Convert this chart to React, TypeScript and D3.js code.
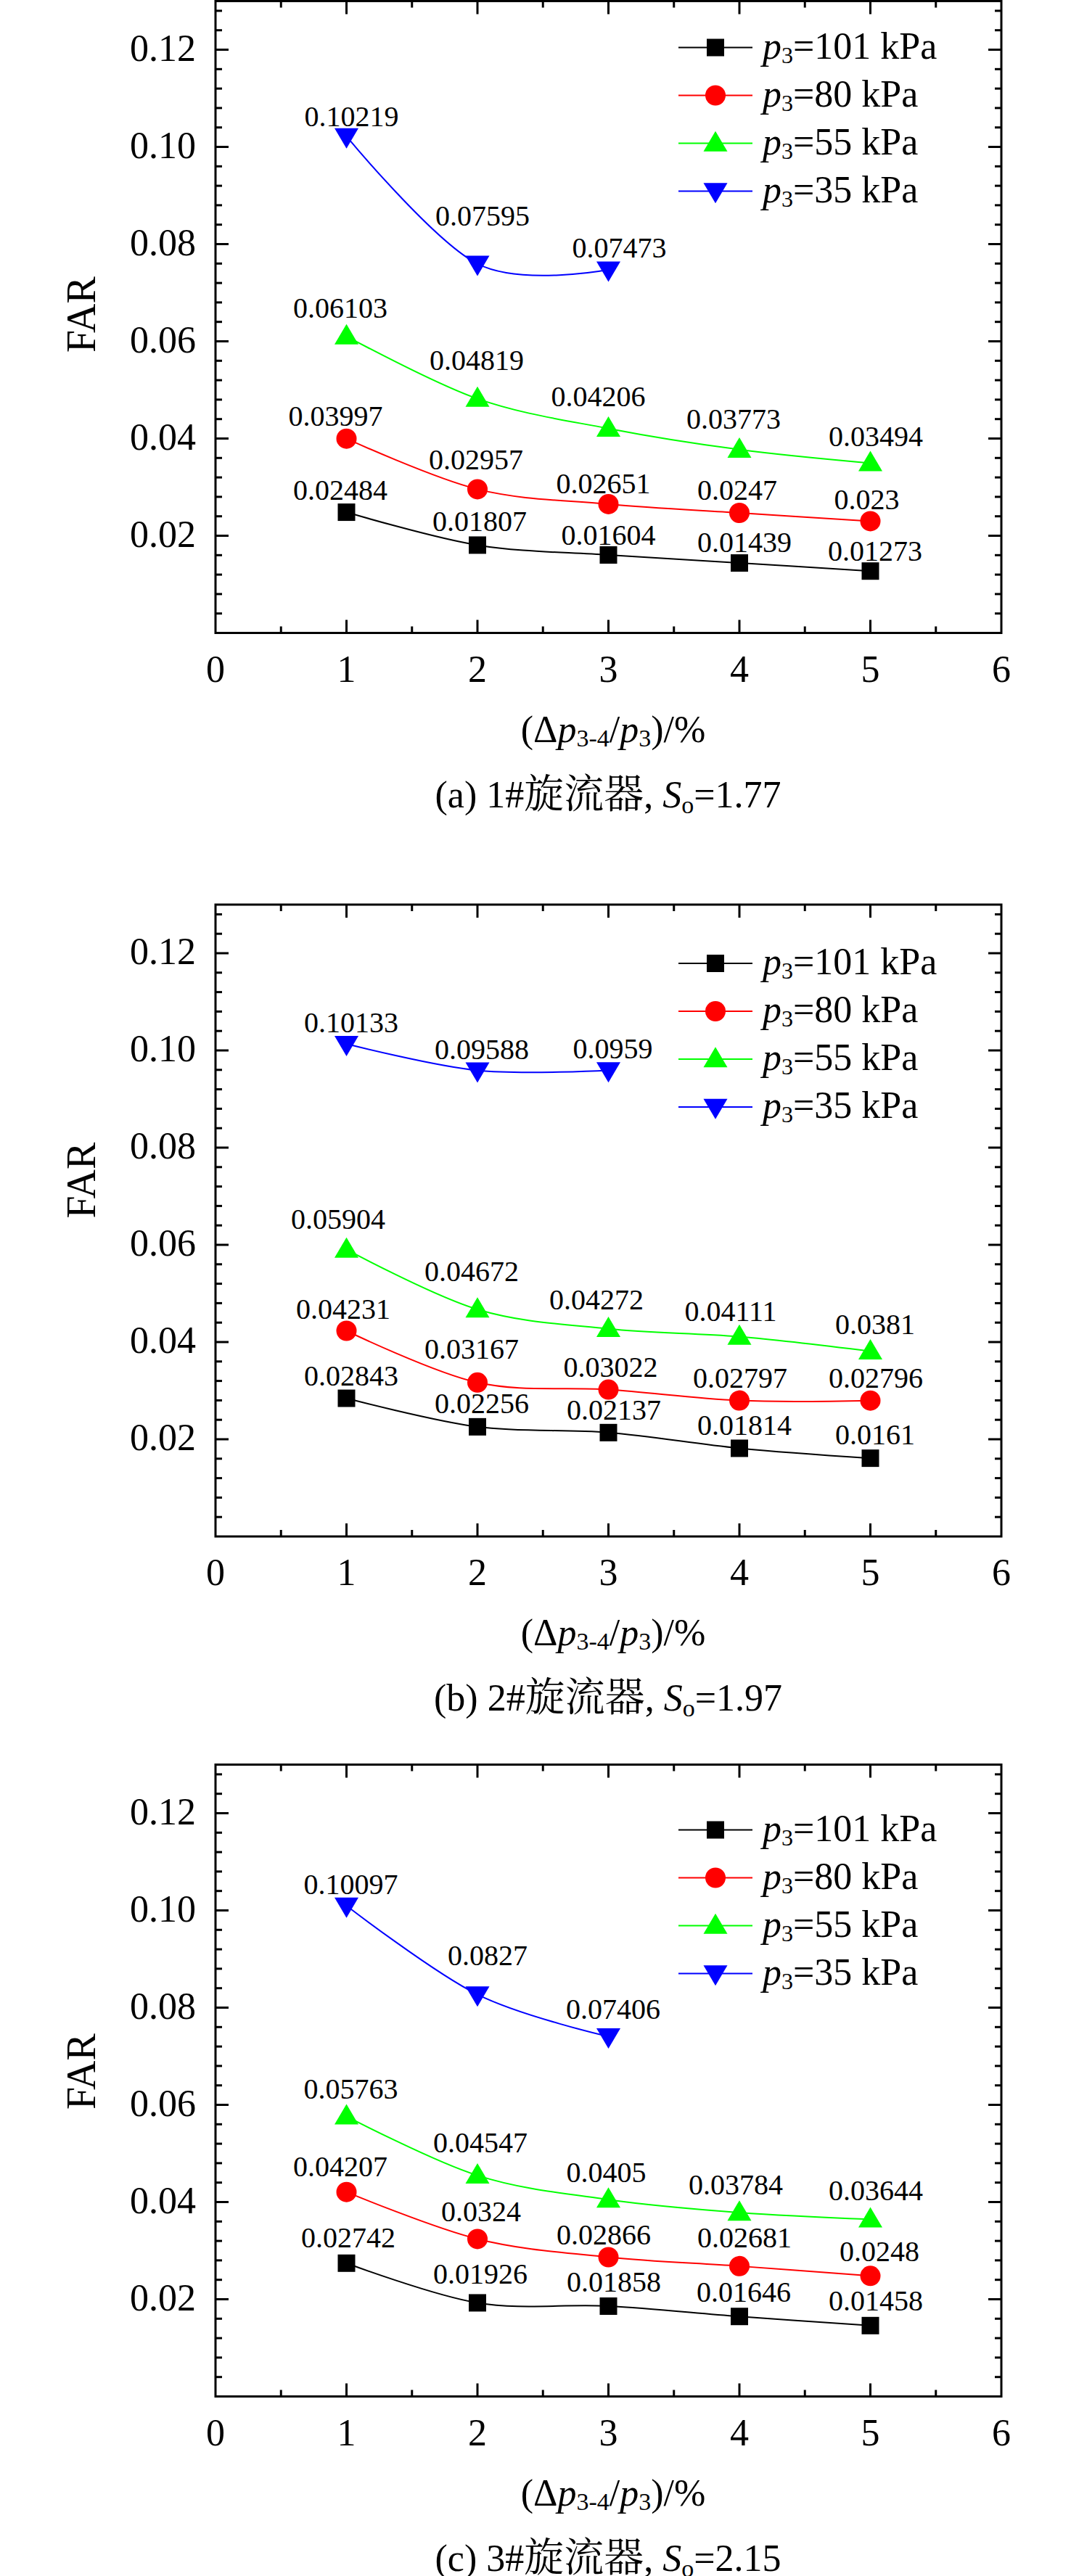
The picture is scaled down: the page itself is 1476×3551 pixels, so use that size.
import React from 'react';
import * as d3 from 'd3';

// ---------- data ----------
const xValues = [1, 2, 3, 4, 5];
const pressureLabels = ['101', '80', '55', '35'];
const seriesColors = ['#000000', '#ff0000', '#00ff00', '#0000ff'];
const markerShapes = ['square', 'circle', 'triangle', 'triangleDown'];

const a101 = [0.02484, 0.01807, 0.01604, 0.01439, 0.01273];
const a80 = [0.03997, 0.02957, 0.02651, 0.0247, 0.023];
const a55 = [0.06103, 0.04819, 0.04206, 0.03773, 0.03494];
const a35 = [0.10219, 0.07595, 0.07473];

const b101 = [0.02843, 0.02256, 0.02137, 0.01814, 0.0161];
const b80 = [0.04231, 0.03167, 0.03022, 0.02797, 0.02796];
const b55 = [0.05904, 0.04672, 0.04272, 0.04111, 0.0381];
const b35 = [0.10133, 0.09588, 0.0959];

const c101 = [0.02742, 0.01926, 0.01858, 0.01646, 0.01458];
const c80 = [0.04207, 0.0324, 0.02866, 0.02681, 0.0248];
const c55 = [0.05763, 0.04547, 0.0405, 0.03784, 0.03644];
const c35 = [0.10097, 0.0827, 0.07406];

const panelLetters = ['a', 'b', 'c'];
const swirlerNames = ['1#', '2#', '3#'];
const swirlerWord = '旋流器';
const swirlNumbers = ['1.77', '1.97', '2.15'];

const xTicks = [0, 1, 2, 3, 4, 5, 6];
const yTicks = [0.02, 0.04, 0.06, 0.08, 0.1, 0.12];
const yTickLabels = ['0.02', '0.04', '0.06', '0.08', '0.10', '0.12'];

// ---------- layout (label offsets: dx, dy of label baseline from point) ----------
const offA = [
  [[-8.5, -17], [3, -19.5], [0, -14], [7, -15], [6.5, -14]],
  [[-15, -18], [-2, -27], [-7, -15], [-3, -18], [-5, -16]],
  [[-8.5, -26], [-1, -40], [-14, -31], [-8, -29], [7.5, -23]],
  [[7, -14], [7, -53], [15, -17]],
];
const offB = [
  [[6.5, -18], [6, -19], [7.5, -18], [7, -18], [6.5, -19]],
  [[-4.5, -17], [-8, -32.5], [3, -18], [1, -18], [7.5, -18]],
  [[-11.5, -28.5], [-8, -38.5], [-16.5, -27], [-12, -21.5], [6.5, -24]],
  [[6.5, -16], [6, -16], [6, -16]],
];
const offC = [
  [[2.5, -22], [4, -26.6], [7.5, -20], [6, -20.4], [7.5, -21]],
  [[-8.5, -22], [5, -24.4], [-6.5, -17.5], [7, -26], [12.5, -20]],
  [[6, -24], [4, -31.6], [-3, -24], [-5, -25.4], [7.5, -26]],
  [[6, -16.5], [14, -40.6], [6.5, -24.6]],
];

const panelSeries = [
  [a101, a80, a55, a35],
  [b101, b80, b55, b35],
  [c101, c80, c55, c35],
];
const panelOffsets = [offA, offB, offC];
const panelTops = [1.5, 1247, 2432.5];
const legendTops = [64, 81, 90];
const farCenters = [432, 380, 423];

const W = 1476;
const H = 3551;
const plotLeft = 297;
const plotRight = 1380;
const plotH = 871;
const FONT = "'Liberation Serif', 'Times New Roman', Times, serif";
const CJK = "'Noto Serif CJK SC', 'Noto Sans CJK SC', sans-serif";

function Marker({ shape, x, y, color }: { shape: string; x: number; y: number; color: string }) {
  if (shape === 'square') {
    const s = 24;
    return <rect x={x - s / 2} y={y - s / 2} width={s} height={s} fill={color} />;
  }
  if (shape === 'circle') {
    return <circle cx={x} cy={y} r={14} fill={color} />;
  }
  const w = 33;
  const h = 28;
  if (shape === 'triangle') {
    const p = `M${x},${y - h * 0.6}L${x + w / 2},${y + h * 0.4}L${x - w / 2},${y + h * 0.4}Z`;
    return <path d={p} fill={color} />;
  }
  const p = `M${x},${y + h * 0.6}L${x + w / 2},${y - h * 0.4}L${x - w / 2},${y - h * 0.4}Z`;
  return <path d={p} fill={color} />;
}

function Panel({ index }: { index: number }) {
  const top = panelTops[index];
  const bottom = top + plotH;
  const x = d3.scaleLinear().domain([0, 6]).range([plotLeft, plotRight]);
  const y = d3.scaleLinear().domain([0, 0.13]).range([bottom, top]);
  const series = panelSeries[index];
  const offsets = panelOffsets[index];

  const xMinor = d3.range(0, 6.0001, 0.5);
  const yMinor = d3.range(0, 0.13001, 0.004);
  const isMajorY = (v: number) => Math.abs(v / 0.02 - Math.round(v / 0.02)) < 1e-6;
  const isMajorX = (v: number) => Math.abs(v - Math.round(v)) < 1e-6;

  const lineGen = d3
    .line<[number, number]>()
    .x((d) => x(d[0]))
    .y((d) => y(d[1]))
    .curve(d3.curveCardinal.tension(0));

  const legX1 = 935;
  const legX2 = 1037;
  const legMx = 986;
  const legTx = 1051;

  return (
    <g fontFamily={FONT}>
      {/* ticks */}
      {xMinor.map((v, i) => {
        const len = isMajorX(v) ? 18 : 9;
        if (v === 0 || v === 6) return null;
        return (
          <g key={'xt' + i}>
            <line x1={x(v)} x2={x(v)} y1={bottom} y2={bottom - len} stroke="#000" strokeWidth={3} />
            <line x1={x(v)} x2={x(v)} y1={top} y2={top + len} stroke="#000" strokeWidth={3} />
          </g>
        );
      })}
      {yMinor.map((v, i) => {
        const len = isMajorY(v) ? 18 : 9;
        if (v === 0) return null;
        return (
          <g key={'yt' + i}>
            <line x1={plotLeft} x2={plotLeft + len} y1={y(v)} y2={y(v)} stroke="#000" strokeWidth={3} />
            <line x1={plotRight} x2={plotRight - len} y1={y(v)} y2={y(v)} stroke="#000" strokeWidth={3} />
          </g>
        );
      })}
      <rect x={plotLeft} y={top} width={plotRight - plotLeft} height={plotH} fill="none" stroke="#000" strokeWidth={3} />

      {/* tick labels */}
      {yTicks.map((v, i) => (
        <text key={'yl' + i} x={270} y={y(v) + 15} textAnchor="end" fontSize={52}>
          {yTickLabels[i]}
        </text>
      ))}
      {xTicks.map((v) => (
        <text key={'xl' + v} x={x(v)} y={bottom + 67} textAnchor="middle" fontSize={52}>
          {String(v)}
        </text>
      ))}

      {/* axis titles */}
      <text transform={`translate(131,${top + farCenters[index]}) rotate(-90)`} textAnchor="middle" fontSize={56}>
        FAR
      </text>
      <text x={845} y={bottom + 150} textAnchor="middle" fontSize={52}>
        (Δ<tspan fontStyle="italic">p</tspan>
        <tspan fontSize={34} dy={6}>3-4</tspan>
        <tspan dy={-6}>/</tspan>
        <tspan fontStyle="italic">p</tspan>
        <tspan fontSize={34} dy={6}>3</tspan>
        <tspan dy={-6}>)/%</tspan>
      </text>
      <text x={838} y={bottom + 240} textAnchor="middle" fontSize={52}>
        ({panelLetters[index]}) {swirlerNames[index]}
        <tspan fontFamily={CJK} fontSize={55}>{swirlerWord}</tspan>
        <tspan>, </tspan>
        <tspan fontStyle="italic">S</tspan>
        <tspan fontSize={34} dy={8}>o</tspan>
        <tspan dy={-8}>={swirlNumbers[index]}</tspan>
      </text>

      {/* series lines */}
      {series.map((vals, si) => {
        const pts = vals.map((v, k) => [xValues[k], v] as [number, number]);
        return <path key={'ln' + si} d={lineGen(pts) || ''} fill="none" stroke={seriesColors[si]} strokeWidth={2} />;
      })}
      {/* markers */}
      {series.map((vals, si) =>
        vals.map((v, k) => (
          <Marker key={'m' + si + '_' + k} shape={markerShapes[si]} x={x(xValues[k])} y={y(v)} color={seriesColors[si]} />
        ))
      )}
      {/* value labels */}
      {series.map((vals, si) =>
        vals.map((v, k) => (
          <text
            key={'vl' + si + '_' + k}
            x={x(xValues[k]) + offsets[si][k][0]}
            y={y(v) + offsets[si][k][1]}
            textAnchor="middle"
            fontSize={40}
          >
            {String(v)}
          </text>
        ))
      )}

      {/* legend */}
      {pressureLabels.map((p, si) => {
        const ly = top + legendTops[index] + si * 66;
        return (
          <g key={'lg' + si}>
            <line x1={legX1} x2={legX2} y1={ly} y2={ly} stroke={seriesColors[si]} strokeWidth={2} />
            <Marker shape={markerShapes[si]} x={legMx} y={ly} color={seriesColors[si]} />
            <text x={legTx} y={ly + 15} fontSize={52}>
              <tspan fontStyle="italic">p</tspan>
              <tspan fontSize={32} dy={6}>3</tspan>
              <tspan dy={-6}>={p} kPa</tspan>
            </text>
          </g>
        );
      })}
    </g>
  );
}

export default function App() {
  return (
    <svg
      width={W}
      height={H}
      viewBox={`0 0 ${W} ${H}`}
      style={{ position: 'absolute', left: 0, top: 0, background: '#fff' }}
    >
      <rect x={0} y={0} width={W} height={H} fill="#fff" />
      {[0, 1, 2].map((i) => (
        <Panel key={i} index={i} />
      ))}
    </svg>
  );
}
